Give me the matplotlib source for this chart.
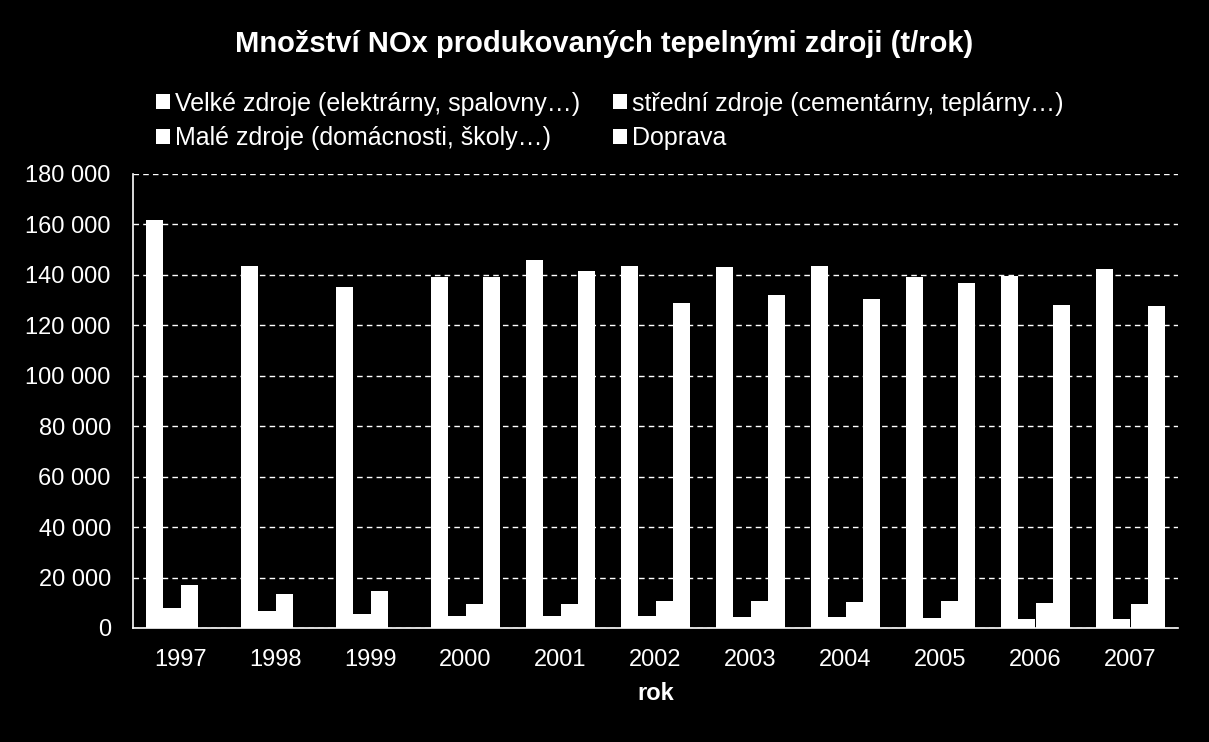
import numpy as np
import matplotlib
matplotlib.use("Agg")
import matplotlib.pyplot as plt
from matplotlib.ticker import FuncFormatter

plt.rcParams['font.family'] = ['Liberation Sans', 'DejaVu Sans']

# data (t/rok)
roky = ['1997', '1998', '1999', '2000', '2001', '2002', '2003', '2004', '2005', '2006', '2007']
velke = [161700, 143400, 135100, 139100, 145800, 143400, 143000, 143400, 139100, 139500, 142300]
stredni = [7900, 6800, 5600, 4800, 4800, 4800, 4400, 4400, 4000, 3600, 3600]
male = [17100, 13500, 14700, 9500, 9500, 10700, 10700, 10300, 10700, 9900, 9500]
doprava = [np.nan, np.nan, np.nan, 139100, 141500, 128700, 131900, 130300, 136700, 127900, 127500]

nazvy = ['Velké zdroje (elektrárny, spalovny…)',
         'střední zdroje (cementárny, teplárny…)',
         'Malé zdroje (domácnosti, školy…)',
         'Doprava']

fig = plt.figure(figsize=(12.09, 7.42), dpi=100, facecolor='black')
ax = fig.add_axes([133/1209, 1 - 628/742, 1045/1209, 454/742])
ax.set_facecolor('black')

x = np.arange(len(roky))
w = 0.181
bary = []
for i, hodnoty in enumerate([velke, stredni, male, doprava]):
    b = ax.bar(x + (i - 1.5) * w, hodnoty, w, color='white', linewidth=0, label=nazvy[i])
    bary.append(b)

ax.set_xlim(-0.5, len(roky) - 0.5)
ax.set_ylim(0, 180000)
ax.set_yticks(np.arange(0, 180001, 20000))
ax.yaxis.set_major_formatter(FuncFormatter(lambda v, p: f"{int(v):,}".replace(',', ' ')))
ax.set_xticks(x)
ax.set_xticklabels(roky)
ax.tick_params(colors='white', labelsize=17, length=0)
ax.tick_params(axis='x', pad=15)
ax.tick_params(axis='y', pad=16)
ax.yaxis.grid(True, color='white', linestyle=(0, (4, 3)), linewidth=1)
ax.set_axisbelow(True)
for s in ['top', 'right']:
    ax.spines[s].set_visible(False)
for s in ['left', 'bottom']:
    ax.spines[s].set_color('white')
    ax.spines[s].set_linewidth(1.2)

ax.set_xlabel('rok', color='white', fontsize=17, fontweight='bold', labelpad=8)

fig.text(0.5, 1 - 44/742, 'Množství NOx produkovaných tepelnými zdroji (t/rok)',
         color='white', fontsize=21, fontweight='bold', ha='center', va='center')

# legend: 2 columns, filled column-first
poradi = [0, 2, 1, 3]
leg = fig.legend([bary[i] for i in poradi], [nazvy[i] for i in poradi], ncol=2,
                 loc='upper left', bbox_to_anchor=(143/1209, 1 - 79/742),
                 frameon=False, fontsize=18, labelcolor='white', borderpad=0,
                 handlelength=0.56, handleheight=0.56, handletextpad=0.22,
                 columnspacing=1.3, labelspacing=0.42)

fig.savefig('out.png', facecolor='black')
